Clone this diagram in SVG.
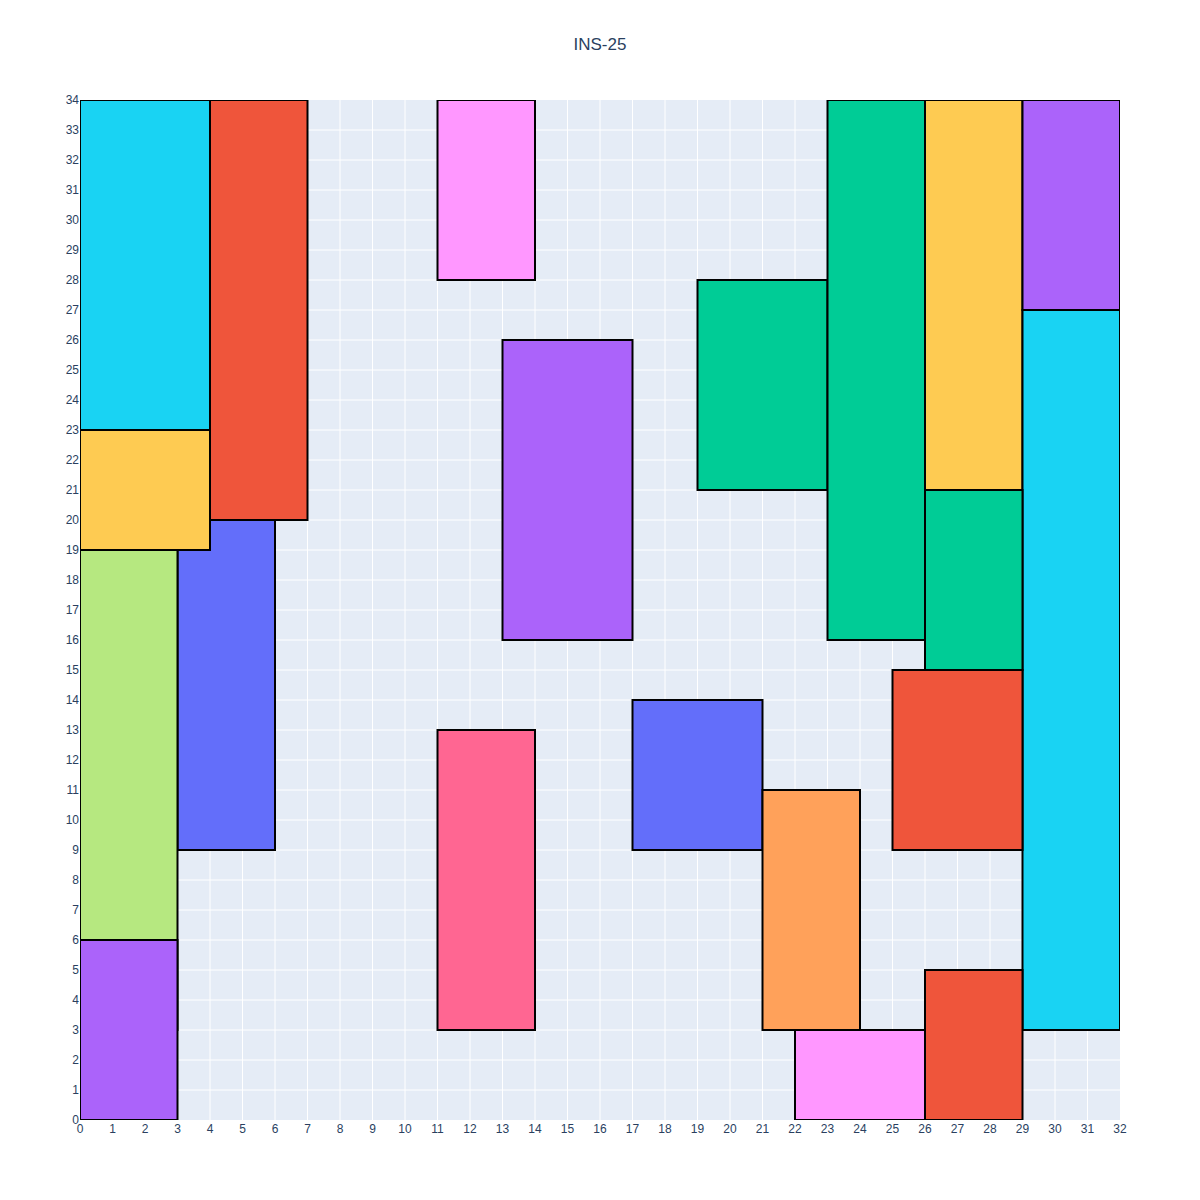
<svg xmlns="http://www.w3.org/2000/svg" width="1200" height="1200" viewBox="0 0 1200 1200">
<style>
.t{font-family:"Liberation Sans",Arial,sans-serif;font-size:12px;fill:#2a3f5f}
.yl{text-anchor:end}
.xl{text-anchor:middle}
.r{stroke:#000;stroke-width:2}
.g{stroke:#fff;stroke-width:1;fill:none}
</style>
<defs>
<clipPath id="plot"><rect x="80" y="100" width="1040" height="1020"/></clipPath>
</defs>
<rect x="0" y="0" width="1200" height="1200" fill="#fff"/>
<text x="600" y="50" text-anchor="middle" style="font-family:'Liberation Sans',Arial,sans-serif;font-size:17px;fill:#2a3f5f">INS-25</text>
<rect x="80" y="100" width="1040" height="1020" fill="#E5ECF6"/>
<g id="grid">
<path class="g" d="M112.5 100V1120M145 100V1120M177.5 100V1120M210 100V1120M242.5 100V1120M275 100V1120M307.5 100V1120M340 100V1120M372.5 100V1120M405 100V1120M437.5 100V1120M470 100V1120M502.5 100V1120M535 100V1120M567.5 100V1120M600 100V1120M632.5 100V1120M665 100V1120M697.5 100V1120M730 100V1120M762.5 100V1120M795 100V1120M827.5 100V1120M860 100V1120M892.5 100V1120M925 100V1120M957.5 100V1120M990 100V1120M1022.5 100V1120M1055 100V1120M1087.5 100V1120"/>
<path class="g" d="M80 1090H1120M80 1060H1120M80 1030H1120M80 1000H1120M80 970H1120M80 940H1120M80 910H1120M80 880H1120M80 850H1120M80 820H1120M80 790H1120M80 760H1120M80 730H1120M80 700H1120M80 670H1120M80 640H1120M80 610H1120M80 580H1120M80 550H1120M80 520H1120M80 490H1120M80 460H1120M80 430H1120M80 400H1120M80 370H1120M80 340H1120M80 310H1120M80 280H1120M80 250H1120M80 220H1120M80 190H1120M80 160H1120M80 130H1120"/>
</g>
<g id="nodes" clip-path="url(#plot)">
<g id="n1"><rect class="r" x="80" y="100" width="130" height="330" fill="#19d3f3"/></g>
<g id="n2"><rect class="r" x="210" y="100" width="97.5" height="420" fill="#EF553B"/></g>
<g id="n3"><rect class="r" x="177.5" y="520" width="97.5" height="330" fill="#636efa"/></g>
<g id="n4"><rect class="r" x="80" y="430" width="130" height="120" fill="#FECB52"/></g>
<g id="n5"><rect class="r" x="80" y="550" width="97.5" height="480" fill="#B6E880"/></g>
<g id="n6"><rect class="r" x="80" y="940" width="97.5" height="180" fill="#ab63fa"/></g>
<g id="n7"><rect class="r" x="437.5" y="100" width="97.5" height="180" fill="#FF97FF"/></g>
<g id="n8"><rect class="r" x="502.5" y="340" width="130" height="300" fill="#ab63fa"/></g>
<g id="n9"><rect class="r" x="697.5" y="280" width="130" height="210" fill="#00cc96"/></g>
<g id="n10"><rect class="r" x="827.5" y="100" width="97.5" height="540" fill="#00cc96"/></g>
<g id="n11"><rect class="r" x="925" y="100" width="97.5" height="390" fill="#FECB52"/></g>
<g id="n12"><rect class="r" x="1022.5" y="100" width="97.5" height="210" fill="#ab63fa"/></g>
<g id="n13"><rect class="r" x="1022.5" y="310" width="97.5" height="720" fill="#19d3f3"/></g>
<g id="n14"><rect class="r" x="925" y="490" width="97.5" height="180" fill="#00cc96"/></g>
<g id="n15"><rect class="r" x="892.5" y="670" width="130" height="180" fill="#EF553B"/></g>
<g id="n16"><rect class="r" x="437.5" y="730" width="97.5" height="300" fill="#FF6692"/></g>
<g id="n17"><rect class="r" x="632.5" y="700" width="130" height="150" fill="#636efa"/></g>
<g id="n18"><rect class="r" x="762.5" y="790" width="97.5" height="240" fill="#FFA15A"/></g>
<g id="n19"><rect class="r" x="795" y="1030" width="130" height="90" fill="#FF97FF"/></g>
<g id="n20"><rect class="r" x="925" y="970" width="97.5" height="150" fill="#EF553B"/></g>
</g>
<g id="connectors"></g>
<g id="yticks" class="t yl">
<text x="79" y="1124">0</text><text x="79" y="1094">1</text><text x="79" y="1064">2</text><text x="79" y="1034">3</text><text x="79" y="1004">4</text><text x="79" y="974">5</text><text x="79" y="944">6</text><text x="79" y="914">7</text><text x="79" y="884">8</text><text x="79" y="854">9</text><text x="79" y="824">10</text><text x="79" y="794">11</text><text x="79" y="764">12</text><text x="79" y="734">13</text><text x="79" y="704">14</text><text x="79" y="674">15</text><text x="79" y="644">16</text><text x="79" y="614">17</text><text x="79" y="584">18</text><text x="79" y="554">19</text><text x="79" y="524">20</text><text x="79" y="494">21</text><text x="79" y="464">22</text><text x="79" y="434">23</text><text x="79" y="404">24</text><text x="79" y="374">25</text><text x="79" y="344">26</text><text x="79" y="314">27</text><text x="79" y="284">28</text><text x="79" y="254">29</text><text x="79" y="224">30</text><text x="79" y="194">31</text><text x="79" y="164">32</text><text x="79" y="134">33</text><text x="79" y="104">34</text>
</g>
<g id="xticks" class="t xl">
<text x="80" y="1133">0</text><text x="112.5" y="1133">1</text><text x="145" y="1133">2</text><text x="177.5" y="1133">3</text><text x="210" y="1133">4</text><text x="242.5" y="1133">5</text><text x="275" y="1133">6</text><text x="307.5" y="1133">7</text><text x="340" y="1133">8</text><text x="372.5" y="1133">9</text><text x="405" y="1133">10</text><text x="437.5" y="1133">11</text><text x="470" y="1133">12</text><text x="502.5" y="1133">13</text><text x="535" y="1133">14</text><text x="567.5" y="1133">15</text><text x="600" y="1133">16</text><text x="632.5" y="1133">17</text><text x="665" y="1133">18</text><text x="697.5" y="1133">19</text><text x="730" y="1133">20</text><text x="762.5" y="1133">21</text><text x="795" y="1133">22</text><text x="827.5" y="1133">23</text><text x="860" y="1133">24</text><text x="892.5" y="1133">25</text><text x="925" y="1133">26</text><text x="957.5" y="1133">27</text><text x="990" y="1133">28</text><text x="1022.5" y="1133">29</text><text x="1055" y="1133">30</text><text x="1087.5" y="1133">31</text><text x="1120" y="1133">32</text>
</g>
</svg>
